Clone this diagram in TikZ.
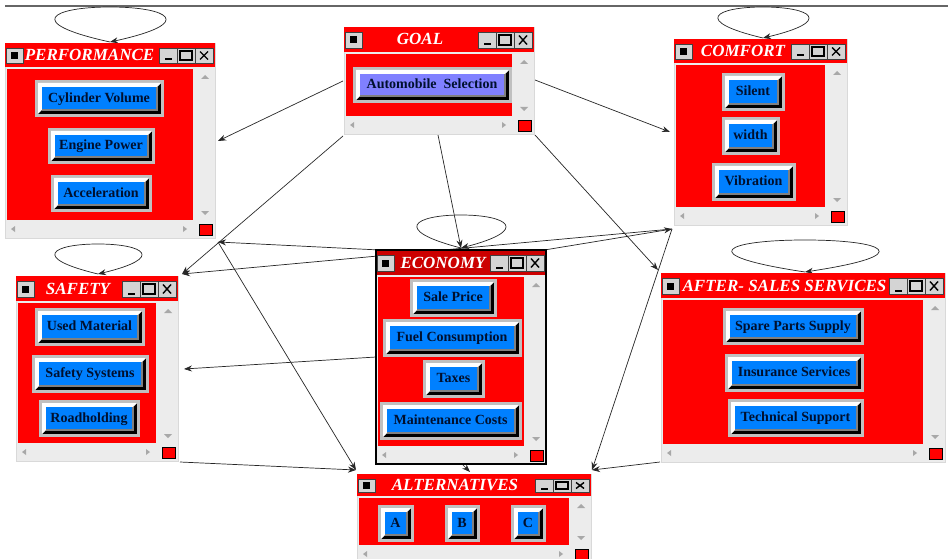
\documentclass[tikz,border=0pt]{standalone}
\usepackage{fontspec}
\setmainfont{Liberation Serif}
\usetikzlibrary{arrows.meta}
\definecolor{winred}{HTML}{FF0000}
\definecolor{darkred}{HTML}{CC0000}
\definecolor{wingray}{HTML}{ECECEC}
\definecolor{btngray}{HTML}{C0C0C0}
\definecolor{faceblue}{HTML}{0080FF}
\definecolor{facelav}{HTML}{8080FF}
\definecolor{navy}{HTML}{00102E}
\definecolor{arrgray}{HTML}{A8A8A8}
\definecolor{tbgray}{HTML}{D4D4D4}
\tikzset{
 conn/.style={draw=black!85, line width=0.7pt},
 tip/.style={-{Stealth[length=8pt,width=6pt]}},
 titletext/.style={text=white, font=\fontsize{17}{19}\selectfont\bfseries\itshape, inner sep=0pt, text height=11pt, text depth=0pt},
 btnface/.style={text=navy, font=\fontsize{14}{16}\selectfont\bfseries, inner sep=0pt, text height=8.5pt, text depth=0pt},
 tbbtn/.style={fill=tbgray, draw=black!75, line width=0.8pt},
}
\newcommand\btn[7][faceblue]{%
 \fill[btngray] (#3,#4) rectangle (#5,#6);
 \fill[black] (#3+3,#4+3) rectangle (#5-3,#6-3);
 \fill[white] (#3+3,#6-3) -- (#3+3,#4+3) -- (#5-3,#4+3) -- (#5-7,#4+7) -- (#3+7,#6-7) -- cycle;
 \fill[black!50] (#3+7,#4+7) rectangle (#5-6,#6-6);
 \pgfmathsetmacro\btnW{#5-#3-15}\pgfmathsetmacro\btnH{#6-#4-15}%
 \node[btnface, fill=#1, minimum width=\btnW pt, minimum height=\btnH pt] (#2) at ({(#3+#5)/2-0.5},{(#4+#6)/2-0.5}) {#7};
}
\newcommand\win[9]{%
 \filldraw[fill=wingray, draw=black!15] (#2,#3) rectangle (#4,#5);
 \fill[#9] (#2,#3) rectangle (#4,#6);
 \fill[winred] (#2+2,#6+2) rectangle (#4-22,#5-18);
 \fill[arrgray] (#4-14,#6+12) -- (#4-6,#6+12) -- (#4-10,#6+8) -- cycle;
 \fill[arrgray] (#4-14,#5-27) -- (#4-6,#5-27) -- (#4-10,#5-23) -- cycle;
 \fill[arrgray] (#2+10,#5-12) -- (#2+10,#5-6) -- (#2+6,#5-9) -- cycle;
 \fill[arrgray] (#4-32,#5-12) -- (#4-32,#5-6) -- (#4-28,#5-9) -- cycle;
 \filldraw[fill=winred, draw=black, line width=0.8pt] (#4-16,#5-14) rectangle (#4-3,#5-3);
 \pgfmathsetmacro\wya{#3+5}\pgfmathsetmacro\wyb{#6-4}\pgfmathsetmacro\wym{(#3+#6)/2+0.5}%
 \filldraw[tbbtn] (#2+1,\wya) rectangle (#2+18,\wyb);
 \fill[black] (#2+6,\wym-3.5) rectangle (#2+13,\wym+3.5);
 \filldraw[tbbtn] (#4-56,\wya) rectangle (#4-38,\wyb);
 \draw[line width=2pt] (#4-50,\wyb-3.5) -- (#4-43,\wyb-3.5);
 \filldraw[tbbtn] (#4-38,\wya) rectangle (#4-20,\wyb);
 \draw[line width=1.1pt] (#4-35,\wya+3) rectangle (#4-23,\wyb-3);
 \draw[line width=1.6pt] (#4-35,\wya+3.5) -- (#4-23,\wya+3.5);
 \filldraw[tbbtn] (#4-20,\wya) rectangle (#4-2,\wyb);
 \draw[line width=1.4pt] (#4-15,\wya+3.5) -- (#4-7,\wyb-3.5) (#4-15,\wyb-3.5) -- (#4-7,\wya+3.5);
 \node[titletext] (#1) at (#7,{(#3+#6)/2}) {#8};
}
\newcommand\selfloop[3]{%
 \draw[conn,tip] (#1) .. controls +(-1.6*#2,-0.55*#3) and +(-1.05*#2,0) .. ++(0,-#3)
   .. controls +(1.05*#2,0) and +(1.6*#2,-0.55*#3) .. (#1);
}
\begin{document}
\begin{tikzpicture}[x=1pt,y=-1pt]
\useasboundingbox (0,0) rectangle (948,559);
\clip (0,0) rectangle (948,559);
\fill[white] (0,0) rectangle (948,559);
\draw[black!60, line width=1.6pt] (5,6) -- (948,6);
% connector end points
\coordinate (gL) at (343,81);
\coordinate (gR) at (535,80);
\coordinate (gBL) at (343,136);
\coordinate (gB) at (438,135);
\coordinate (gBR) at (535,135);
\coordinate (pR) at (218,141);
\coordinate (pC) at (218,242);
\coordinate (cL) at (670,132);
\coordinate (cB) at (672,229);
\coordinate (eT) at (461,248);
\coordinate (eL) at (376,357);
\coordinate (eI1) at (420,252);
\coordinate (eI2) at (520,254);
\coordinate (eB) at (462,464);
\coordinate (sT) at (182,274);
\coordinate (sM) at (184,369);
\coordinate (sB) at (180,462);
\coordinate (aT) at (658,270);
\coordinate (aB) at (660,462);
\coordinate (xL) at (356,470);
\coordinate (xM) at (470,472);
\coordinate (xR) at (592,470);
% connectors
\draw[conn,tip] (gL) -- (pR);
\draw[conn,tip] (gR) -- (cL);
\draw[conn,tip] (gB) -- (eT);
\draw[conn,tip] (gBL) -- (sT);
\draw[conn,tip] (gBR) -- (aT);
\draw[conn,tip] (cB) -- (sT);
\draw[conn,tip] (cB) -- (xR);
\draw[conn,tip] (eI1) -- (pC);
\draw[conn,tip] (eI2) -- (cB);
\draw[conn,tip] (pC) -- (xL);
\draw[conn,tip] (sB) -- (xL);
\draw[conn,tip] (eL) -- (sM);
\draw[conn,tip] (eB) -- (xM);
\draw[conn,tip] (aB) -- (xR);
% self loops
\coordinate (pLoop) at (110,42);
\coordinate (cLoop) at (763,38);
\coordinate (eLoop) at (461,248);
\coordinate (sLoop) at (98,274);
\coordinate (aLoop) at (805,272);
\selfloop{pLoop}{55}{35}
\selfloop{cLoop}{45}{31}
\selfloop{eLoop}{44}{33}
\selfloop{sLoop}{43}{30}
\selfloop{aLoop}{73}{32}
% windows
\win{perf}{5}{43}{215}{238}{67}{89.5}{PERFORMANCE}{winred}
\btn{cv}{35}{80}{164}{117}{Cylinder Volume}
\btn{ep}{48}{128}{155}{164}{Engine Power}
\btn{acc}{51}{175}{152}{212}{Acceleration}
\win{goal}{344}{27}{534}{134}{52}{420}{GOAL}{winred}
\btn[facelav]{as}{353}{67}{512}{103}{Automobile\ \ Selection}
\win{comf}{674}{39}{847}{225}{63}{743}{COMFORT}{winred}
\btn{sil}{722}{73}{785}{111}{Silent}
\btn{wid}{722}{117}{780}{155}{width}
\btn{vib}{712}{163}{796}{201}{Vibration}
\win{econ}{376}{250}{546}{464}{275}{443}{ECONOMY}{darkred}
\draw[black, line width=1.8pt] (376,250) rectangle (546,464);
\btn{sp}{410}{279}{497}{317}{Sale Price}
\btn{fc}{383}{319}{522}{357}{Fuel Consumption}
\btn{tax}{423}{360}{485}{398}{Taxes}
\btn{mc}{380}{402}{522}{440}{Maintenance Costs}
\win{safe}{16}{276}{178}{461}{301}{78}{SAFETY}{winred}
\btn{um}{35}{308}{145}{346}{Used Material}
\btn{ss}{32}{355}{149}{393}{Safety Systems}
\btn{rh}{39}{400}{140}{437}{Roadholding}
\win{after}{661}{273}{945}{462}{298}{784.5}{AFTER- SALES SERVICES}{winred}
\btn{spa}{723}{308}{864}{345}{Spare Parts Supply}
\btn{ins}{725}{354}{864}{392}{Insurance Services}
\btn{ts}{728}{399}{864}{437}{Technical Support}
\win{alt}{357}{474}{591}{563}{496}{455}{ALTERNATIVES}{winred}
\btn{ba}{378}{505}{414}{542}{A}
\btn{bb}{445}{505}{480}{542}{B}
\btn{bc}{511}{505}{546}{542}{C}
\end{tikzpicture}
\end{document}
